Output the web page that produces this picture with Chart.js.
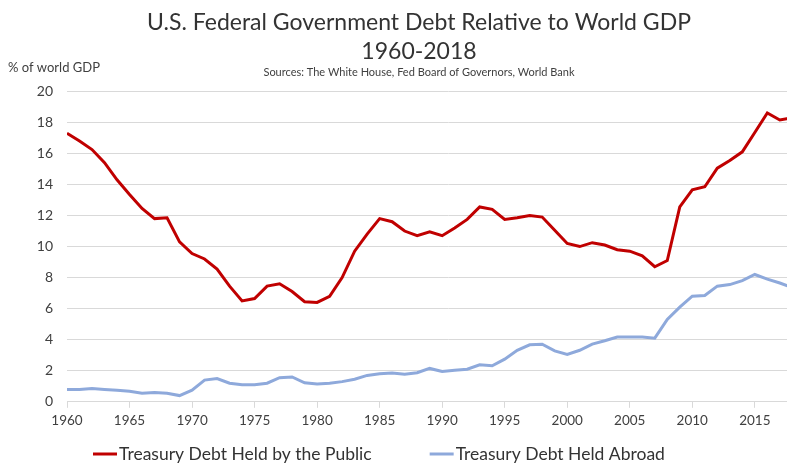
<!DOCTYPE html>
<html>
<head>
<meta charset="utf-8">
<script src="https://cdn.jsdelivr.net/npm/chart.js@4.4.1/dist/chart.umd.min.js"></script>
<style>
  html, body { margin: 0; padding: 0; background: #fff; overflow: hidden; }
  #wrap { width: 787px; height: 463px; overflow: hidden; }
  canvas { display: block; }
</style>
</head>
<body>
<div id="wrap"><canvas id="chart" width="838" height="463"></canvas></div>
<script>
// Years on the horizontal axis
const years = [];
for (let y = 1960; y <= 2018; y++) years.push(y);

// Treasury debt held by the public, % of world GDP
const heldByPublic = [
  17.3, 16.8, 16.25, 15.4, 14.3, 13.35, 12.45, 11.8, 11.85, 10.3,
  9.55, 9.2, 8.55, 7.45, 6.5, 6.65, 7.45, 7.6, 7.1, 6.45,
  6.4, 6.8, 8.0, 9.7, 10.8, 11.8, 11.6, 11.0, 10.7, 10.95,
  10.7, 11.2, 11.75, 12.55, 12.4, 11.75, 11.85, 12.0, 11.9, 11.05,
  10.2, 10.0, 10.25, 10.1, 9.8, 9.7, 9.4, 8.7, 9.1, 12.55,
  13.65, 13.85, 15.05, 15.55, 16.1, 17.35, 18.6, 18.15, 18.3
];

// Treasury debt held abroad, % of world GDP
const heldAbroad = [
  0.8, 0.8, 0.85, 0.8, 0.75, 0.68, 0.55, 0.6, 0.55, 0.4,
  0.75, 1.4, 1.5, 1.2, 1.1, 1.1, 1.2, 1.55, 1.6, 1.22,
  1.15, 1.2, 1.3, 1.45, 1.7, 1.8, 1.85, 1.78, 1.87, 2.15,
  1.95, 2.03, 2.1, 2.38, 2.32, 2.75, 3.32, 3.67, 3.71, 3.28,
  3.05, 3.32, 3.72, 3.93, 4.17, 4.17, 4.17, 4.1, 5.3, 6.1,
  6.8, 6.85, 7.45, 7.55, 7.8, 8.2, 7.9, 7.65, 7.35
];

const seriesNames = ['Treasury Debt Held by the Public', 'Treasury Debt Held Abroad'];
const titleLines = ['U.S. Federal Government Debt Relative to World GDP', '1960-2018'];
const sourceLine = 'Sources: The White House, Fed Board of Governors, World Bank';
const unitLabel = '% of world GDP';

const FONT = 'Lato, "Open Sans", sans-serif';
const toPoints = vals => vals.map((v, i) => ({ x: years[i], y: v }));

// Unit caption above the value axis
const unitCaption = {
  id: 'unitCaption',
  afterDraw(chart) {
    const ctx = chart.ctx;
    ctx.save();
    ctx.font = '13px ' + FONT;
    ctx.fillStyle = '#404040';
    ctx.textAlign = 'left';
    ctx.textBaseline = 'middle';
    ctx.fillText(unitLabel, 8, 68);
    ctx.restore();
  }
};

// One-row legend under the axis: a short line swatch, then the series name
const legendRow = {
  id: 'legendRow',
  afterDraw(chart) {
    const ctx = chart.ctx;
    const y = 454, swatch = 24, gap = 58;
    let x = 93;
    ctx.save();
    ctx.font = '17.5px ' + FONT;
    ctx.textAlign = 'left';
    ctx.textBaseline = 'middle';
    chart.data.datasets.forEach(ds => {
      ctx.strokeStyle = ds.borderColor;
      ctx.lineWidth = 3;
      ctx.beginPath();
      ctx.moveTo(x, y);
      ctx.lineTo(x + swatch, y);
      ctx.stroke();
      ctx.fillStyle = '#333333';
      ctx.fillText(ds.label, x + swatch + 2, y);
      x += swatch + 2 + ctx.measureText(ds.label).width + gap;
    });
    ctx.restore();
  }
};

new Chart(document.getElementById('chart'), {
  type: 'line',
  data: {
    datasets: [
      {
        label: seriesNames[0],
        data: toPoints(heldByPublic),
        borderColor: '#C00000',
        backgroundColor: '#C00000',
        borderWidth: 3,
        pointRadius: 0,
        tension: 0
      },
      {
        label: seriesNames[1],
        data: toPoints(heldAbroad),
        borderColor: '#8EA9DB',
        backgroundColor: '#8EA9DB',
        borderWidth: 3,
        pointRadius: 0,
        tension: 0
      }
    ]
  },
  options: {
    responsive: false,
    animation: false,
    layout: { padding: { left: 0, right: 0, top: 0, bottom: 29 } },
    plugins: {
      title: {
        display: true,
        text: titleLines,
        color: '#333333',
        font: { family: FONT, size: 23, weight: 'normal', lineHeight: 1.22 },
        padding: { top: 9, bottom: 0 }
      },
      subtitle: {
        display: true,
        text: sourceLine,
        color: '#404040',
        font: { family: FONT, size: 11, weight: 'normal', lineHeight: 1.2 },
        padding: { top: 1, bottom: 12 }
      },
      legend: { display: false },
      tooltip: { enabled: false }
    },
    scales: {
      x: {
        type: 'linear',
        min: 1960,
        max: 2021,
        grid: { drawOnChartArea: false, color: '#d9d9d9', tickLength: 6 },
        border: { color: '#d9d9d9' },
        ticks: {
          stepSize: 5,
          includeBounds: false,
          maxRotation: 0,
          color: '#404040',
          font: { family: FONT, size: 13.5 },
          padding: 5,
          callback: v => String(v)
        }
      },
      y: {
        min: 0,
        max: 20,
        grid: { color: '#d9d9d9', drawTicks: false },
        border: { display: false },
        ticks: {
          stepSize: 2,
          color: '#404040',
          font: { family: FONT, size: 14 },
          padding: 14
        },
        afterFit(scale) { scale.width = 67; }
      }
    }
  },
  plugins: [unitCaption, legendRow]
});
</script>
</body>
</html>
